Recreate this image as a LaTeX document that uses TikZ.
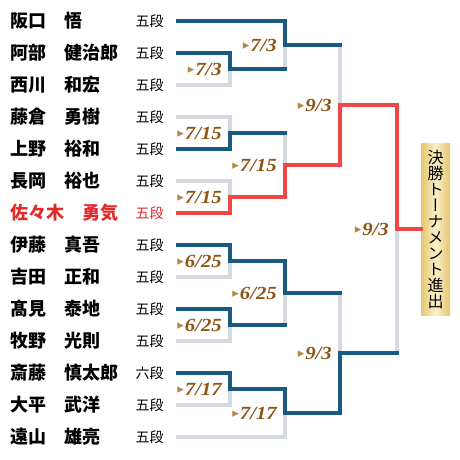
\documentclass[tikz,border=0pt]{standalone}
\usepackage{fontspec}
\newfontfamily\jp{Noto Sans CJK JP}
\newfontfamily\jpv{Noto Sans CJK JP}[RawFeature=+vert]
\newfontfamily\datefont{Liberation Serif}[FakeStretch=1.12]
\newfontfamily\symfont{DejaVu Sans}
\definecolor{winblue}{HTML}{1B5A80}
\definecolor{winred}{HTML}{F04646}
\definecolor{losegray}{HTML}{D3D9DE}
\definecolor{datebrown}{HTML}{8A5516}
\definecolor{tribrown}{HTML}{B3884A}
\definecolor{namered}{HTML}{E32A2A}
\definecolor{goldedge}{HTML}{E5C56E}
\definecolor{goldmid}{HTML}{FBF0CA}
\newcommand{\dt}[1]{\raisebox{1.8pt}{\symfont\fontsize{13}{13}\selectfont\textcolor{tribrown}{▸}}\hspace{1pt}#1}

\begin{document}
\begin{tikzpicture}[x=1pt, y=-1pt, node distance=32pt]

    % Styles
    \tikzstyle{player} = [text width=120pt, align=left, inner sep=0pt, text height=15.8pt, text depth=2.2pt, font=\jp\bfseries\fontsize{18}{18}\selectfont]
    \tikzstyle{rank} = [text width=30pt, align=left, inner sep=0pt, text height=12.3pt, text depth=1.7pt, font=\jp\fontsize{14}{14}\selectfont]
    \tikzstyle{date} = [anchor=east, inner sep=0pt, text height=12.5pt, text depth=0pt, text=datebrown, font=\datefont\bfseries\itshape\fontsize{18.5}{18.5}\selectfont]
    \tikzstyle{lost} = [draw=losegray, line width=3.8pt, line cap=rect]
    \tikzstyle{wonblue} = [draw=winblue, line width=3.8pt, line cap=rect, line join=miter]
    \tikzstyle{wonred} = [draw=winred, line width=3.8pt, line cap=rect, line join=miter]
    \tikzset{finalbox/.style={inner sep=0pt, minimum width=29pt, minimum height=172pt, left color=goldedge, right color=goldedge, middle color=goldmid, align=center, font=\jpv\fontsize{16}{16}\selectfont}}

    \useasboundingbox (0,0) rectangle (460,460);

    % Joueurs
    \node (n1) [player] at (70,21) {阪口　悟};
    \node (n2) [player, below of=n1] {阿部　健治郎};
    \node (n3) [player, below of=n2] {西川　和宏};
    \node (n4) [player, below of=n3] {藤倉　勇樹};
    \node (n5) [player, below of=n4] {上野　裕和};
    \node (n6) [player, below of=n5] {長岡　裕也};
    \node (n7) [player, below of=n6, text=namered] {佐々木　勇気};
    \node (n8) [player, below of=n7] {伊藤　真吾};
    \node (n9) [player, below of=n8] {吉田　正和};
    \node (n10) [player, below of=n9] {髙見　泰地};
    \node (n11) [player, below of=n10] {牧野　光則};
    \node (n12) [player, below of=n11] {斎藤　慎太郎};
    \node (n13) [player, below of=n12] {大平　武洋};
    \node (n14) [player, below of=n13] {遠山　雄亮};

    % Dan
    \node (r1) [rank] at (150.5,21) {五段};
    \node (r2) [rank, below of=r1] {五段};
    \node (r3) [rank, below of=r2] {五段};
    \node (r4) [rank, below of=r3] {五段};
    \node (r5) [rank, below of=r4] {五段};
    \node (r6) [rank, below of=r5] {五段};
    \node (r7) [rank, below of=r6, text=namered] {五段};
    \node (r8) [rank, below of=r7] {五段};
    \node (r9) [rank, below of=r8] {五段};
    \node (r10) [rank, below of=r9] {五段};
    \node (r11) [rank, below of=r10] {五段};
    \node (r12) [rank, below of=r11] {六段};
    \node (r13) [rank, below of=r12] {五段};
    \node (r14) [rank, below of=r13] {五段};

    % Départs
    \coordinate (s1) at (178,21);
    \coordinate (s2) at (178,53);
    \coordinate (s3) at (178,85);
    \coordinate (s4) at (178,117);
    \coordinate (s5) at (178,149);
    \coordinate (s6) at (178,181);
    \coordinate (s7) at (178,213);
    \coordinate (s8) at (178,245);
    \coordinate (s9) at (178,277);
    \coordinate (s10) at (178,309);
    \coordinate (s11) at (178,341);
    \coordinate (s12) at (178,373);
    \coordinate (s13) at (178,405);
    \coordinate (s14) at (178,437);

    % Matchs
    \coordinate (m1) at (230,69);
    \coordinate (m2) at (230,133);
    \coordinate (m3) at (230,197);
    \coordinate (m4) at (230,261);
    \coordinate (m5) at (230,325);
    \coordinate (m6) at (230,389);
    \coordinate (m7) at (285,45);
    \coordinate (m8) at (285,165);
    \coordinate (m9) at (285,293);
    \coordinate (m10) at (285,413);
    \coordinate (m11) at (340,105);
    \coordinate (m12) at (340,353);
    \coordinate (m13) at (397,229);

    % Perdants
    \draw [lost] (s3) -| (m1);
    \draw [lost] (s4) -| (m2);
    \draw [lost] (s6) -| (m3);
    \draw [lost] (s9) -| (m4);
    \draw [lost] (s11) -| (m5);
    \draw [lost] (s13) -| (m6);
    \draw [lost] (m1) -| (m7);
    \draw [lost] (m2) -| (m8);
    \draw [lost] (m5) -| (m9);
    \draw [lost] (s14) -| (m10);
    \draw [lost] (m7) -| (m11);
    \draw [lost] (m9) -| (m12);
    \draw [lost] (m12) -| (m13);

    % Gagnants
    \draw [wonblue] (s1) -| (m7) -- (m7 -| m11);
    \draw [wonblue] (s2) -| (m1) -- (m1 -| m7);
    \draw [wonblue] (s5) -| (m2) -- (m2 -| m8);
    \draw [wonblue] (s8) -| (m4) -| (m9) -- (m9 -| m12);
    \draw [wonblue] (s10) -| (m5) -- (m5 -| m9);
    \draw [wonblue] (s12) -| (m6) -| (m10) -| (m12) -- (m12 -| m13);

    % Final
    \node (final) [finalbox] at (435.5,229) {決\\勝\\ト\\ー\\ナ\\メ\\ン\\ト\\進\\出};
    \draw [wonred] (s7) -| (m3) -| (m8) -| (m11) -| (m13) -- (final.west);

    % Dates
    \node (d1) [date] at ([xshift=-8pt]m1) {\dt{7/3}};
    \node (d2) [date] at ([xshift=-8pt]m2) {\dt{7/15}};
    \node (d3) [date] at ([xshift=-8pt]m3) {\dt{7/15}};
    \node (d4) [date] at ([xshift=-8pt]m4) {\dt{6/25}};
    \node (d5) [date] at ([xshift=-8pt]m5) {\dt{6/25}};
    \node (d6) [date] at ([xshift=-8pt]m6) {\dt{7/17}};
    \node (d7) [date] at ([xshift=-8pt]m7) {\dt{7/3}};
    \node (d8) [date] at ([xshift=-8pt]m8) {\dt{7/15}};
    \node (d9) [date] at ([xshift=-8pt]m9) {\dt{6/25}};
    \node (d10) [date] at ([xshift=-8pt]m10) {\dt{7/17}};
    \node (d11) [date] at ([xshift=-8pt]m11) {\dt{9/3}};
    \node (d12) [date] at ([xshift=-8pt]m12) {\dt{9/3}};
    \node (d13) [date] at ([xshift=-8pt]m13) {\dt{9/3}};
\end{tikzpicture}
\end{document}
